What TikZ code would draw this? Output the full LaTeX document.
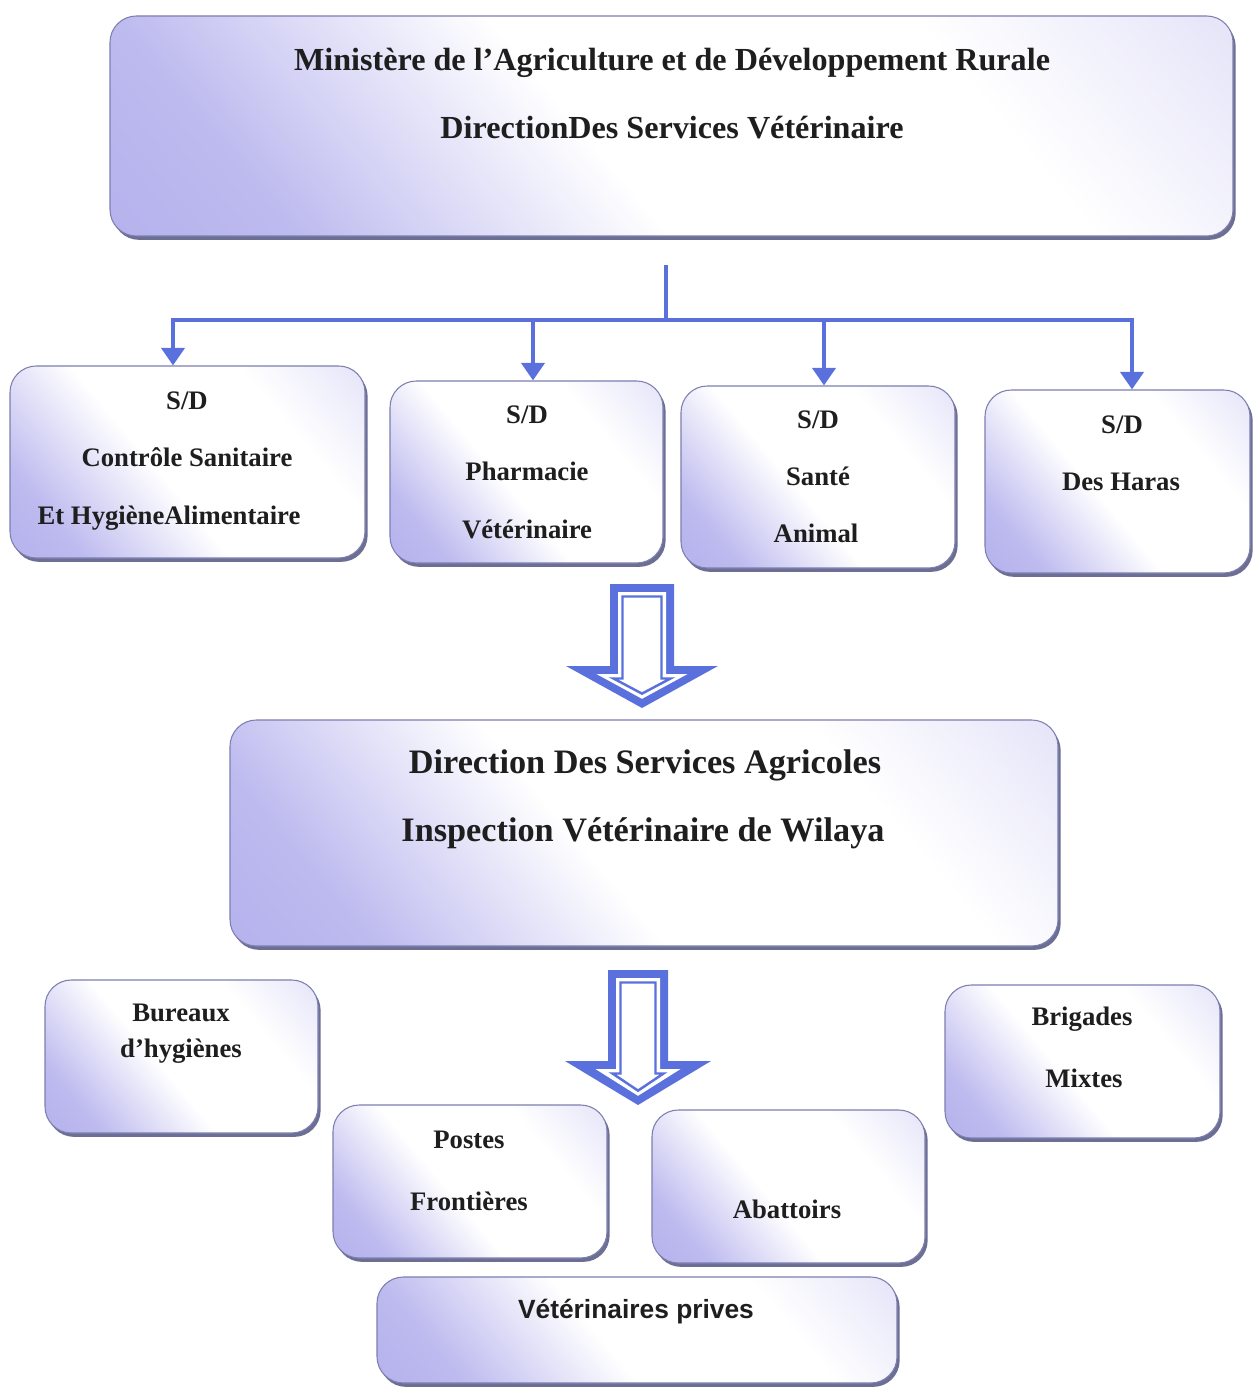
\documentclass[tikz,border=0pt]{standalone}
\usepackage{fontspec}
\setmainfont{Liberation Serif}
\newfontfamily\arialf{Liberation Sans}
\usetikzlibrary{shadows,arrows.meta}
\definecolor{lav}{RGB}{168,164,234}
\definecolor{abl}{RGB}{90,112,220}
\definecolor{shad}{RGB}{72,74,122}
\definecolor{bord}{RGB}{125,127,175}
\definecolor{ink}{RGB}{30,30,30}
\pgfdeclareverticalshading{boxshade}{100bp}{color(0bp)=(lav); color(25bp)=(lav!75!white); color(45bp)=(white); color(68bp)=(white); color(100bp)=(lav!55!white)}
\tikzset{
  box/.style={rectangle, rounded corners=15pt, draw=bord, line width=0.6pt,
    shading=boxshade, shading angle=-50,
    drop shadow={shadow xshift=1.5pt, shadow yshift=-2.2pt, fill=shad, opacity=0.8}, inner sep=0pt},
  tbig/.style={anchor=base, font=\bfseries\fontsize{18.3}{21}\selectfont, text=ink, inner sep=0pt},
  tdsa/.style={anchor=base, font=\bfseries\fontsize{19.5}{22}\selectfont, text=ink, inner sep=0pt},
  tmid/.style={anchor=base, font=\bfseries\fontsize{15.2}{18}\selectfont, text=ink, inner sep=0pt},
  tsans/.style={anchor=base, font=\arialf\bfseries\fontsize{15}{18}\selectfont, text=ink, inner sep=0pt},
  conn/.style={draw=abl, line width=2.8pt, line join=miter},
  tip/.style={-{Triangle[width=13pt,length=10pt]}}
}
\newcommand\bx[5]{\node[box, minimum width={(#4-#2)*0.02cm}, minimum height={(#5-#3)*0.02cm}] (#1) at ({(#2+#4)/2},{(#3+#5)/2}) {};}
\newcommand\bkpath[8]{\path[#8] ({#1-#5+#7},{#2+#7}) -- ({#1+#5-#7},{#2+#7}) -- ({#1+#5-#7},{#3+#7}) -- ({#1+#6-3.8*#7},{#3+#7}) -- (#1,{#4-1.15*#7}) -- ({#1-#6+3.8*#7},{#3+#7}) -- ({#1-#5+#7},{#3+#7}) -- cycle;}
\newcommand\bkarrow[6]{%
  \bkpath{#1}{#2}{#3}{#4}{#5}{#6}{0}{fill=abl}%
  \bkpath{#1}{#2}{#3}{#4}{#5}{#6}{8}{fill=white}%
  \bkpath{#1}{#2}{#3}{#4}{#5}{#6}{12.5}{draw=abl,line width=1.4pt,fill=white,line join=miter}}
\begin{document}
\begin{tikzpicture}[x=0.02cm,y=-0.02cm]
\fill[white] (0,0) rectangle (1254,1388);
\useasboundingbox (0,0) rectangle (1254,1388);
% top box
\bx{top}{110}{16}{1233}{236}
\node[tbig] (t1) at (672,71) {Ministère de l’Agriculture et de Développement Rurale};
\node[tbig] (t2) at (672,139) {DirectionDes Services Vétérinaire};
% sub-direction boxes
\bx{A}{10}{366}{365}{558}
\bx{B}{390}{381}{663}{563}
\bx{C}{681}{386}{955}{568}
\bx{D}{985}{390}{1250}{573}
\node[tmid] (a1) at (187,409) {S/D};
\node[tmid] (a2) at (187,466) {Contrôle Sanitaire};
\node[tmid] (a3) at (169,524) {Et HygièneAlimentaire};
\node[tmid] (b1) at (527,423) {S/D};
\node[tmid] (b2) at (527,480) {Pharmacie};
\node[tmid] (b3) at (527,538) {Vétérinaire};
\node[tmid] (c1) at (818,428) {S/D};
\node[tmid] (c2) at (818,485) {Santé};
\node[tmid] (c3) at (816,542) {Animal};
\node[tmid] (d1) at (1122,433) {S/D};
\node[tmid] (d2) at (1121,490) {Des Haras};
% connectors
\coordinate (c0) at (666,265);
\coordinate (hub) at (666,320);
\coordinate (bA) at (173,320);
\coordinate (bB) at (533,320);
\coordinate (bC) at (824,320);
\coordinate (bD) at (1132,320);
\draw[conn] (c0) -- (hub);
\draw[conn, tip] (hub) -- (bA) -- (bA |- A.north);
\draw[conn, tip] (hub) -- (bD) -- (bD |- D.north);
\draw[conn, tip] (bB) -- (bB |- B.north);
\draw[conn, tip] (bC) -- (bC |- C.north);
% block arrow 1
\bkarrow{642}{584}{666}{708}{32}{76}
% DSA box
\bx{dsa}{230}{720}{1058}{946}
\node[tdsa] (e1) at (645,773) {Direction Des Services Agricoles};
\node[tdsa] (e2) at (643,841) {Inspection Vétérinaire de Wilaya};
% block arrow 2
\bkarrow{638}{970}{1061}{1105}{30}{73}
% bottom boxes
\bx{bur}{45}{980}{318}{1133}
\node[tmid] (f1) at (181,1021) {Bureaux};
\node[tmid] (f2) at (181,1057) {d’hygiènes};
\bx{bri}{945}{985}{1220}{1138}
\node[tmid] (g1) at (1082,1025) {Brigades};
\node[tmid] (g2) at (1084,1087) {Mixtes};
\bx{pos}{333}{1105}{607}{1258}
\node[tmid] (h1) at (469,1148) {Postes};
\node[tmid] (h2) at (469,1210) {Frontières};
\bx{aba}{652}{1110}{925}{1263}
\node[tmid] (i1) at (787,1218) {Abattoirs};
\bx{vet}{377}{1277}{897}{1383}
\node[tsans] (j1) at (636,1318) {Vétérinaires prives};
\end{tikzpicture}
\end{document}
